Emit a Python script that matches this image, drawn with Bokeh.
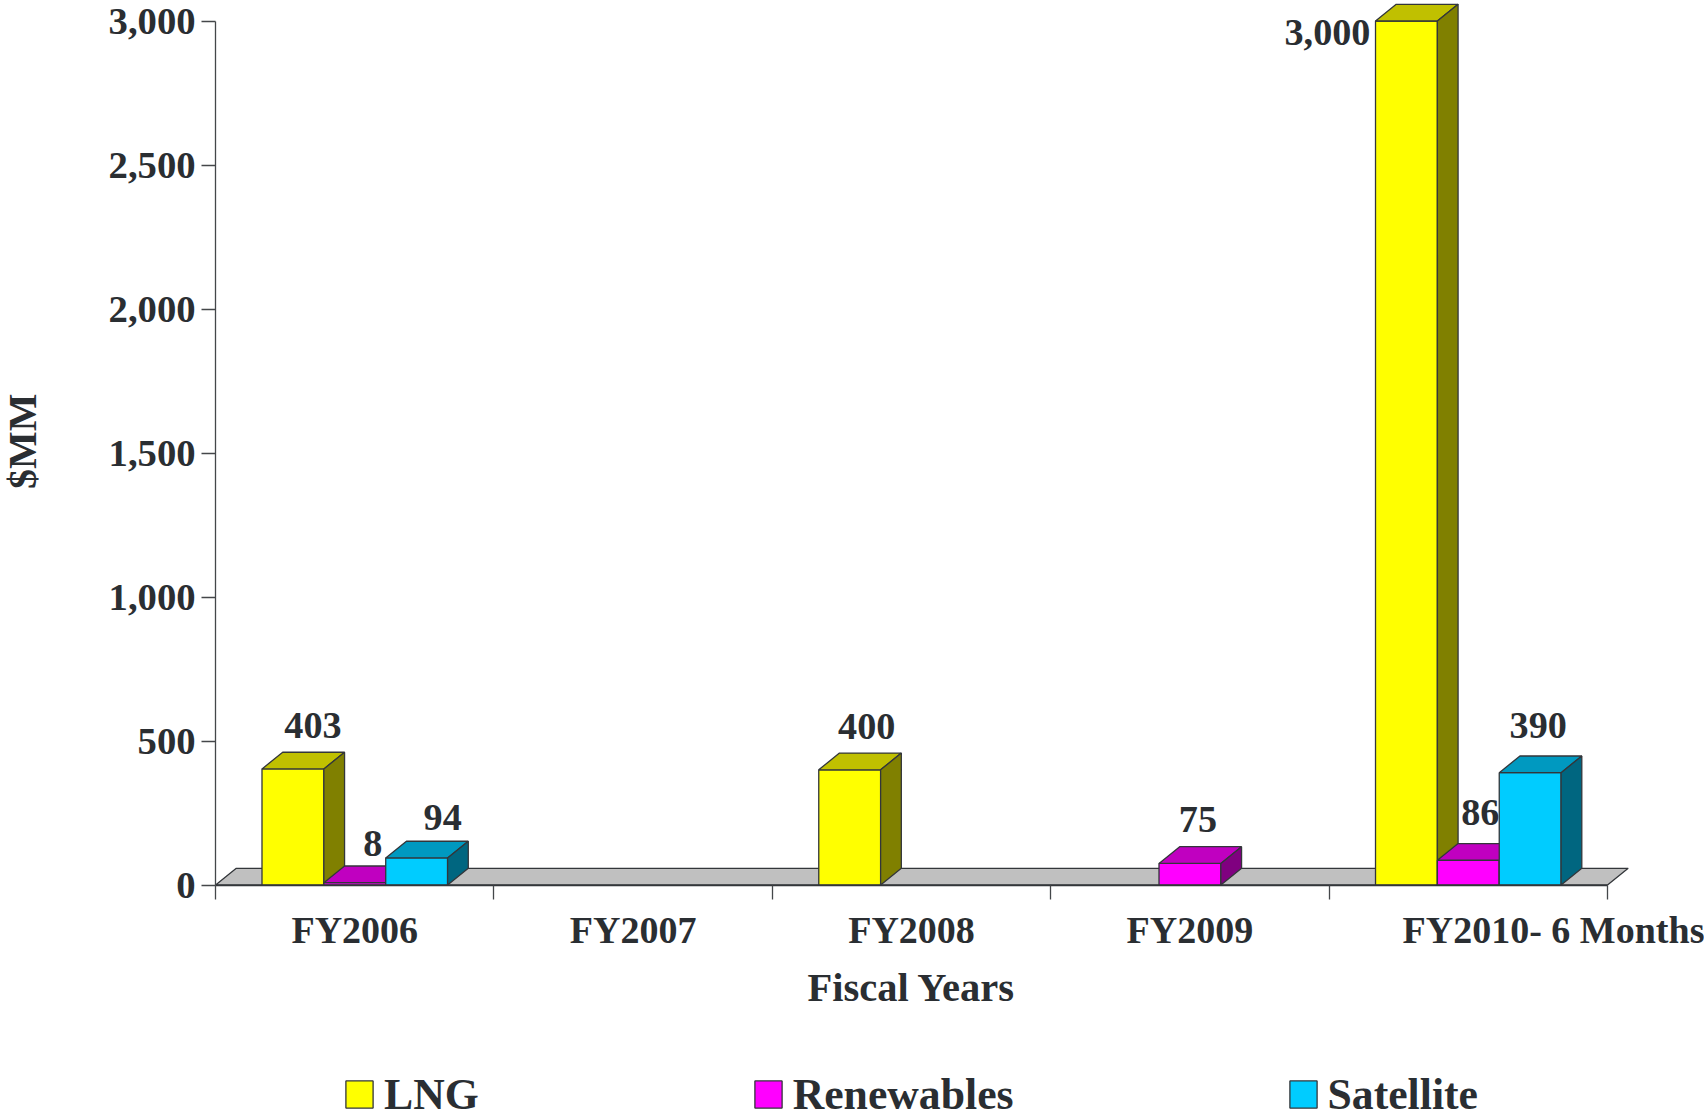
from bokeh.plotting import figure
from bokeh.models import (ColumnDataSource, FixedTicker, Label, Legend, LegendItem,
                          LinearAxis, NumeralTickFormatter, Range1d)
from bokeh.core.properties import value
from bokeh.embed import file_html
from bokeh.resources import INLINE

# ---- data ----
categories = ["FY2006", "FY2007", "FY2008", "FY2009", "FY2010- 6 Months"]
lng = [403, None, 400, None, 3000]
renewables = [8, None, None, 75, 86]
satellite = [94, None, None, None, 390]
y_ticks = [0, 500, 1000, 1500, 2000, 2500, 3000]

# ---- label nudges (px), per series, per category ----
lng_nudge = [(20, -43), None, (17, -43), None, (-79, 11)]
ren_nudge = [(18, -39), None, None, (8, -44), (12, -48)]
sat_nudge = [(26, -40), None, None, None, (8, -47)]

# ---- layout ----
W, H = 1704, 1120
X0, CAT_W = 215.1, 278.38     # px of first tick, px per category
Y0, PX_PER = 884.5, 0.288     # px of zero, px per unit
DEPTH_X = 20.7 / CAT_W
DEPTH_Y = 16.7 / PX_PER
BAR_W = 2 / 9
INK = "#2a2e32"
EDGE = "#33363a"
FONT = "Liberation Serif"

p = figure(width=W, height=H, output_backend="svg", toolbar_location=None,
           x_range=Range1d(-X0 / CAT_W, (W - X0) / CAT_W),
           y_range=Range1d(-(H - Y0) / PX_PER, Y0 / PX_PER),
           x_axis_type=None, y_axis_type=None,
           min_border=0, min_border_left=0, min_border_right=0,
           min_border_top=0, min_border_bottom=0, outline_line_color=None)
p.grid.visible = False

# floor
p.patch([0, DEPTH_X, 5 + DEPTH_X, 5], [0, DEPTH_Y, DEPTH_Y, 0],
        fill_color="#c0c0c0", line_color=EDGE, line_width=1.3)

series = [
    ("LNG", lng, lng_nudge, 0, "#ffff00", "#c0c000", "#808000"),
    ("Renewables", renewables, ren_nudge, 1, "#ff00ff", "#c000c0", "#800080"),
    ("Satellite", satellite, sat_nudge, 2, "#00ccff", "#0099c0", "#006680"),
]

items = []
label_x, label_y, label_t, label_dx, label_dy = [], [], [], [], []
for name, vals, nudge, slot, front, top, side in series:
    idx = [i for i, v in enumerate(vals) if v is not None]
    lefts = [i + 1 / 6 + slot * BAR_W for i in idx]
    rights = [l + BAR_W for l in lefts]
    tops = [vals[i] for i in idx]
    r = p.quad(left=lefts, right=rights, top=tops, bottom=[0] * len(idx),
               fill_color=front, line_color=EDGE, line_width=1.3)
    p.patches([[l, l + DEPTH_X, rr + DEPTH_X, rr] for l, rr in zip(lefts, rights)],
              [[t, t + DEPTH_Y, t + DEPTH_Y, t] for t in tops],
              fill_color=top, line_color=EDGE, line_width=1.3)
    p.patches([[rr, rr + DEPTH_X, rr + DEPTH_X, rr] for rr in rights],
              [[0, DEPTH_Y, t + DEPTH_Y, t] for t in tops],
              fill_color=side, line_color=EDGE, line_width=1.3)
    items.append(LegendItem(label=name, renderers=[r]))
    for i, l in zip(idx, lefts):
        label_x.append(l + BAR_W / 2)
        label_y.append(vals[i])
        label_t.append(f"{vals[i]:,}")
        label_dx.append(nudge[i][0])
        label_dy.append(nudge[i][1])

p.text(x="x", y="y", text="t", x_offset="dx", y_offset="dy",
       source=ColumnDataSource(dict(x=label_x, y=label_y, t=label_t, dx=label_dx, dy=label_dy)),
       text_align="center", text_baseline="alphabetic",
       text_font=value(FONT), text_font_style="bold", text_font_size="38.2px", text_color=INK)

# y axis
yax = LinearAxis(ticker=FixedTicker(ticks=y_ticks), formatter=NumeralTickFormatter(format="0,0"),
                 fixed_location=0, bounds=(0, 3000))
yax.major_tick_out = 14
yax.major_tick_in = 0
yax.minor_tick_out = 0
yax.minor_tick_in = 0
yax.axis_line_color = "#44474a"
yax.axis_line_width = 1.3
yax.major_tick_line_color = "#44474a"
yax.major_tick_line_width = 1.3
yax.major_label_standoff = 6
yax.major_label_text_font = FONT
yax.major_label_text_font_style = "bold"
yax.major_label_text_font_size = "38.7px"
yax.major_label_text_color = INK
p.add_layout(yax, "left")

# x axis: labels sit on invisible major ticks, group separators are minor ticks
label_ticks = [0.5, 1.5, 2.5, 3.5, 4.806]
xax = LinearAxis(ticker=FixedTicker(ticks=label_ticks, minor_ticks=[0, 1, 2, 3, 4, 5]),
                 fixed_location=0, bounds=(0, 5),
                 major_label_overrides=dict(zip(label_ticks, categories)))
xax.major_tick_out = 0
xax.major_tick_in = 0
xax.minor_tick_out = 14
xax.minor_tick_in = 0
xax.axis_line_color = EDGE
xax.axis_line_width = 1.6
xax.minor_tick_line_color = "#44474a"
xax.minor_tick_line_width = 1.3
xax.major_label_standoff = 10
xax.major_label_text_font = FONT
xax.major_label_text_font_style = "bold"
xax.major_label_text_font_size = "38px"
xax.major_label_text_color = INK
xax.axis_label = "Fiscal Years"
xax.axis_label_standoff = 10
xax.axis_label_text_font = FONT
xax.axis_label_text_font_style = "bold"
xax.axis_label_text_font_size = "40.5px"
xax.axis_label_text_color = INK
p.add_layout(xax, "below")

# y title
p.add_layout(Label(x=(22 - X0) / CAT_W, y=(Y0 - 440.7) / PX_PER, text="$MM", angle=1.5708,
                   text_align="center", text_baseline="alphabetic",
                   text_font=FONT, text_font_style="bold", text_font_size="40px", text_color=INK))

legend = Legend(items=items, orientation="horizontal", location=(342, 1),
                spacing=272, glyph_width=34, glyph_height=34, label_standoff=8,
                padding=0, margin=0, background_fill_alpha=0, border_line_color=None,
                label_text_font=FONT, label_text_font_style="bold",
                label_text_font_size="43.7px", label_text_color=INK)
p.add_layout(legend)

open("out.html", "w").write(file_html(p, INLINE))
